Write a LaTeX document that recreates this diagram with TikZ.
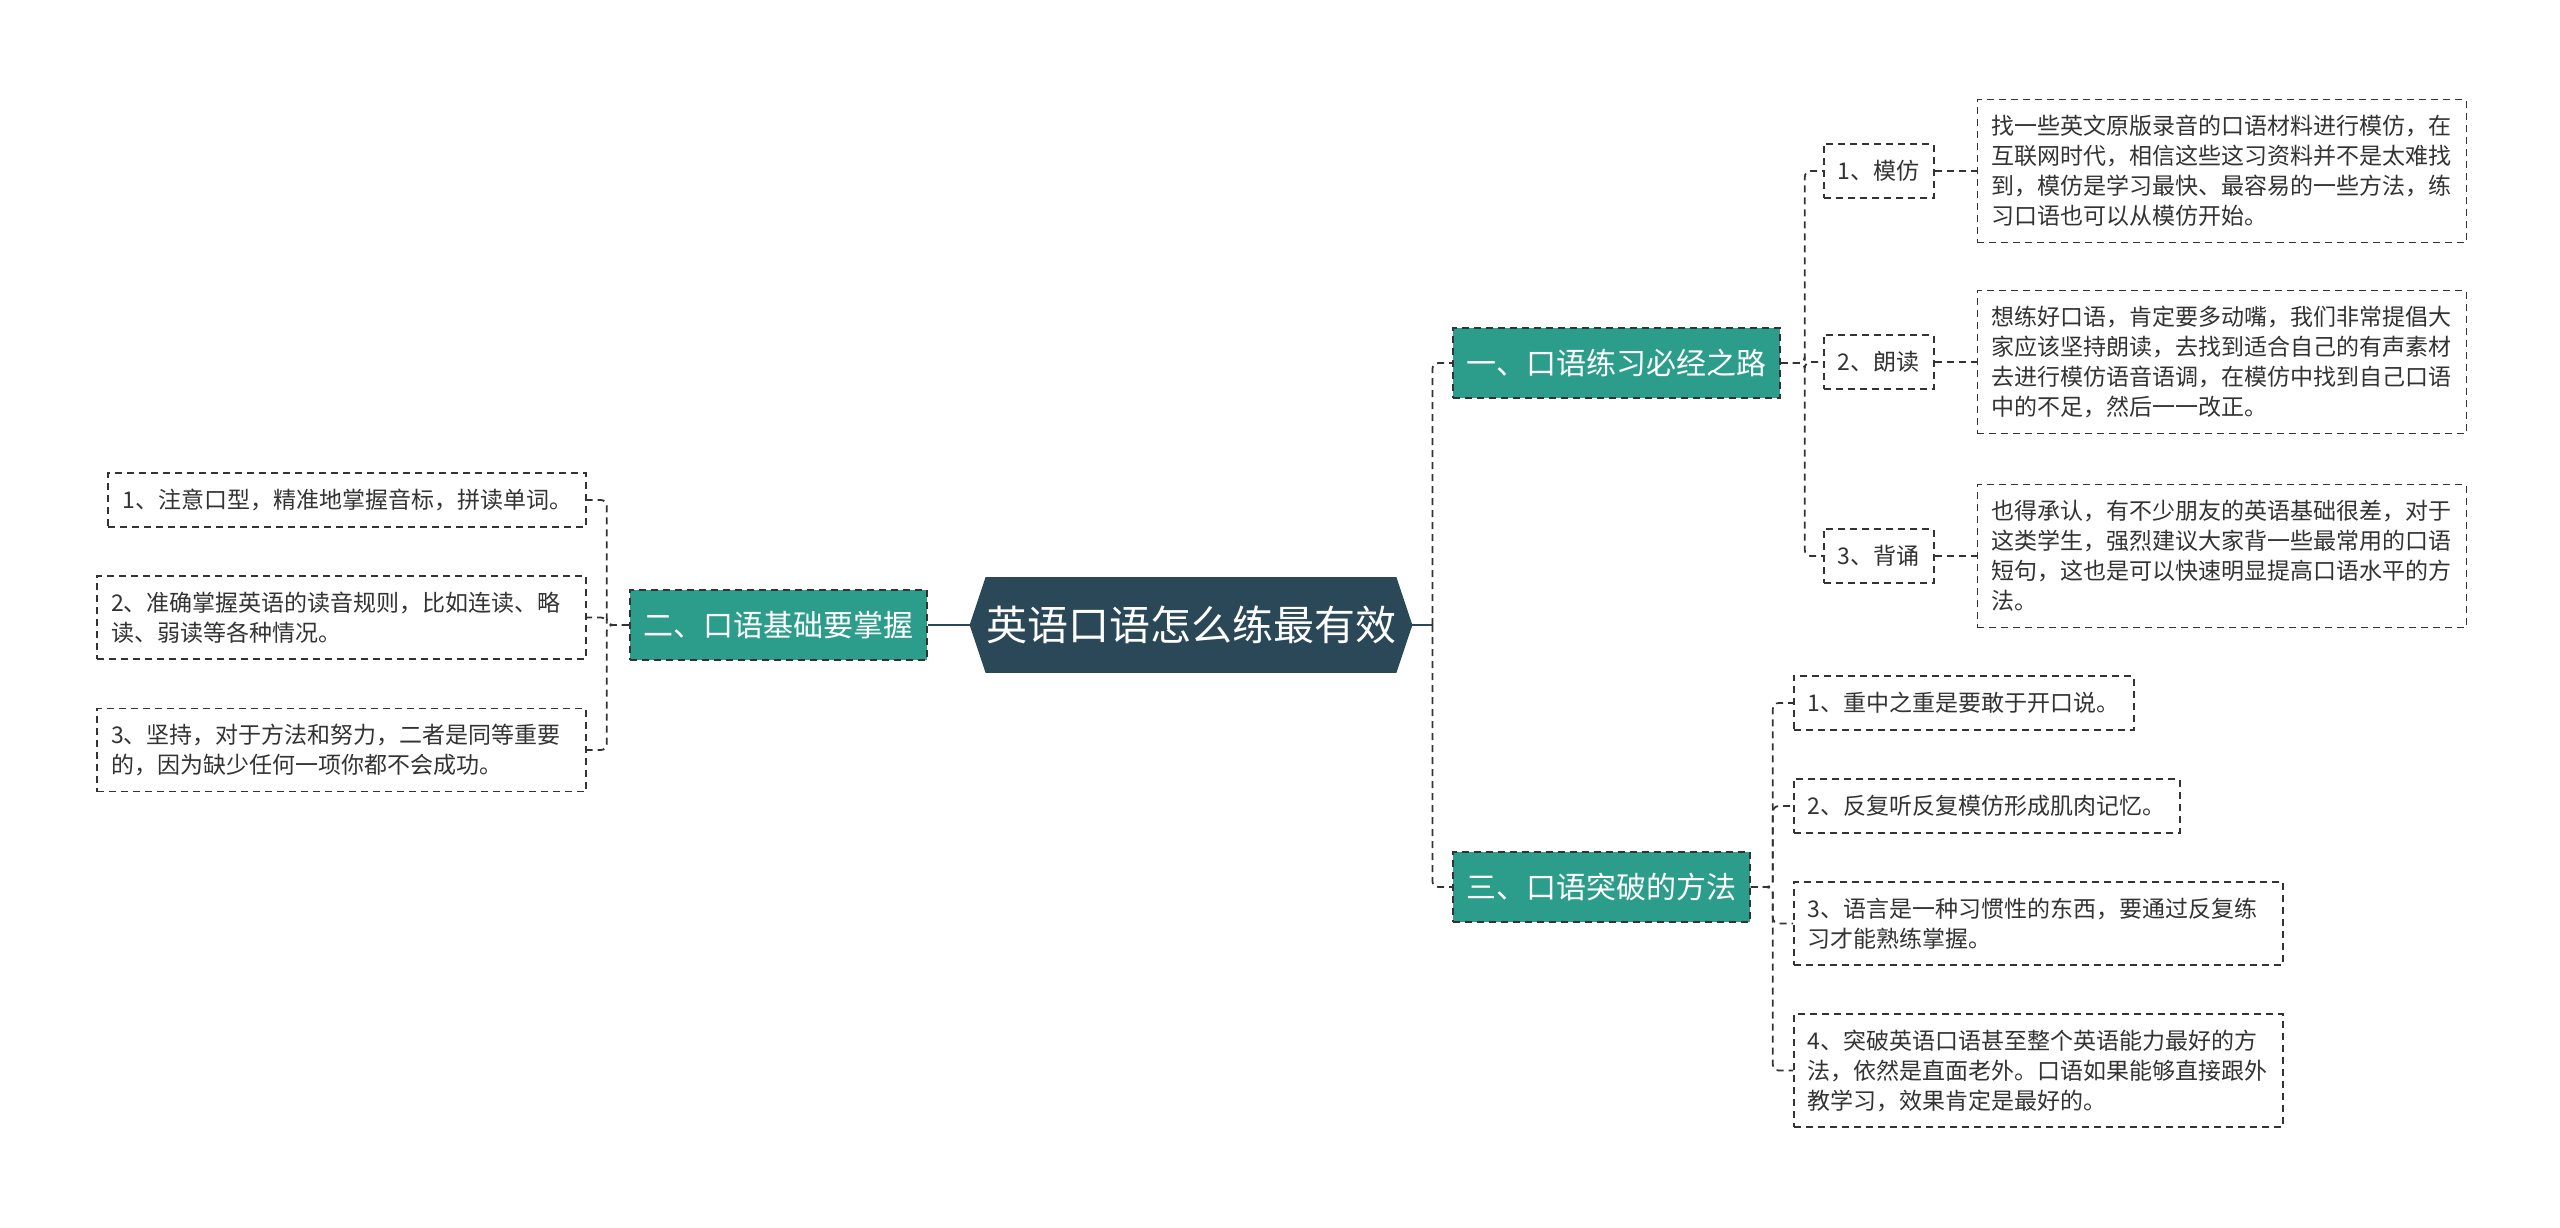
\documentclass[tikz,border=0pt]{standalone}
\usepackage{fontspec}
\setmainfont{Noto Sans CJK SC}
\usepackage{xcolor}
\usepackage{tikz}
\usetikzlibrary{positioning,backgrounds}

\definecolor{rootblue}{HTML}{2A4857}
\definecolor{topicgreen}{HTML}{2C9D8B}
\definecolor{linegray}{HTML}{333333}
\definecolor{textgray}{HTML}{333333}

\begin{document}
\begin{tikzpicture}[x=0.5pt,y=-0.5pt,
  dashline/.style={dash pattern=on 3.5pt off 2.5pt},
  root/.style={text=white,font=\fontsize{20.5}{24}\selectfont,minimum width=221pt,minimum height=47.5pt,inner sep=0pt},
  topic/.style={draw=linegray,dashline,line width=0.9pt,fill=topicgreen,text=white,font=\fontsize{15}{18}\selectfont,minimum height=35pt,inner xsep=6.75pt},
  leaf/.style={draw=linegray,dashline,line width=0.9pt,text=textgray,font=\fontsize{11.5}{15}\selectfont,inner xsep=7pt,inner ysep=5pt,minimum height=27pt,align=left},
  wide/.style={leaf,text width=230.5pt},
  link/.style={draw=linegray,dashline,line width=0.9pt,rounded corners=3pt},
  trunk/.style={draw=rootblue,line width=1.3pt}]
   \useasboundingbox (0,0) rectangle (2560,1227);

   \node[root] (C) at (1191,625) {英语口语怎么练最有效};
   \node[topic] (B2) [left=21pt of C] {二、口语基础要掌握};
   \node[topic,anchor=west] (B1) at (1452,363) {一、口语练习必经之路};
   \node[topic,anchor=west] (B3) at (1452,887) {三、口语突破的方法};

   \node[leaf,anchor=east] (L1) at (587,500) {1、注意口型，精准地掌握音标，拼读单词。};
   \node[wide,anchor=east,minimum height=41.5pt] (L2) at (587,617.5) {2、准确掌握英语的读音规则，比如连读、略\\读、弱读等各种情况。};
   \node[wide,anchor=east,minimum height=41.5pt] (L3) at (587,750) {3、坚持，对于方法和努力，二者是同等重要\\的，因为缺少任何一项你都不会成功。};

   \node[leaf,anchor=west] (M1) at (1823,171) {1、模仿};
   \node[leaf,anchor=west] (M2) at (1823,362) {2、朗读};
   \node[leaf,anchor=west] (M3) at (1823,556) {3、背诵};
   \node[wide,minimum height=71.5pt] (T1) [right=21pt of M1] {找一些英文原版录音的口语材料进行模仿，在\\互联网时代，相信这些这习资料并不是太难找\\到，模仿是学习最快、最容易的一些方法，练\\习口语也可以从模仿开始。};
   \node[wide,minimum height=71.5pt] (T2) [right=21pt of M2] {想练好口语，肯定要多动嘴，我们非常提倡大\\家应该坚持朗读，去找到适合自己的有声素材\\去进行模仿语音语调，在模仿中找到自己口语\\中的不足，然后一一改正。};
   \node[wide,minimum height=71.5pt] (T3) [right=21pt of M3] {也得承认，有不少朋友的英语基础很差，对于\\这类学生，强烈建议大家背一些最常用的口语\\短句，这也是可以快速明显提高口语水平的方\\法。};

   \node[leaf,anchor=west] (R1) at (1793,703) {1、重中之重是要敢于开口说。};
   \node[leaf,anchor=west] (R2) at (1793,806) {2、反复听反复模仿形成肌肉记忆。};
   \node[wide,anchor=west,minimum height=41.5pt] (R3) at (1793,923.5) {3、语言是一种习惯性的东西，要通过反复练\\习才能熟练掌握。};
   \node[wide,anchor=west,minimum height=56.5pt] (R4) at (1793,1070.5) {4、突破英语口语甚至整个英语能力最好的方\\法，依然是直面老外。口语如果能够直接跟外\\教学习，效果肯定是最好的。};

   \begin{scope}[on background layer]
   \fill[white] (0,0) rectangle (2560,1227);
   \fill[rootblue] (C.west) -- ([xshift=8pt]C.north west) -- ([xshift=-8pt]C.north east) -- (C.east)
     -- ([xshift=-8pt]C.south east) -- ([xshift=8pt]C.south west) -- cycle;
   \end{scope}

   \draw[trunk] (C.west) -- (B2.east);
   \draw[trunk] (C.east) -- ++(10pt,0) coordinate (hub);
   \draw[link] (hub) |- (B1.west);
   \draw[link] (hub) |- (B3.west);

   \draw[link] (B2.west) -- ++(-11pt,0) |- (L1.east);
   \draw[link] (B2.west) -- ++(-11pt,0) |- (L2.east);
   \draw[link] (B2.west) -- ++(-11pt,0) |- (L3.east);

   \draw[link] (B1.east) -- ++(12pt,0) |- (M1.west);
   \draw[link] (B1.east) -- ++(12pt,0) |- (M2.west);
   \draw[link] (B1.east) -- ++(12pt,0) |- (M3.west);
   \path (M1) edge[link] (T1)
         (M2) edge[link] (T2)
         (M3) edge[link] (T3);

   \draw[link] (B3.east) -- ++(11pt,0) |- (R1.west);
   \draw[link] (B3.east) -- ++(11pt,0) |- (R2.west);
   \draw[link] (B3.east) -- ++(11pt,0) |- (R3.west);
   \draw[link] (B3.east) -- ++(11pt,0) |- (R4.west);
\end{tikzpicture}
\end{document}
